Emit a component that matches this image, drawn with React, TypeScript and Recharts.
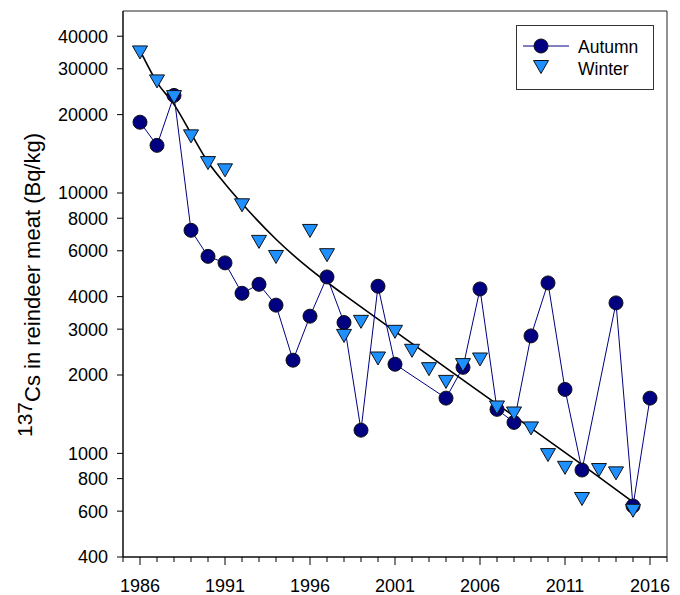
import React from 'react';
import { ComposedChart, Line, Scatter, XAxis, YAxis, ReferenceArea } from 'recharts';

const FONT = "'Liberation Sans', Arial, Helvetica, sans-serif";

// Autumn (circles, connected)
const autumnYears = [1986, 1987, 1988, 1989, 1990, 1991, 1992, 1993, 1994, 1995, 1996, 1997, 1998, 1999, 2000, 2001, 2004, 2005, 2006, 2007, 2008, 2009, 2010, 2011, 2012, 2014, 2015, 2016];
const autumnValues = [18700, 15240, 23700, 7190, 5710, 5390, 4120, 4460, 3710, 2280, 3365, 4760, 3180, 1228, 4385, 2200, 1630, 2140, 4280, 1476, 1315, 2826, 4515, 1761, 863, 3784, 628, 1630];

// Winter (triangles)
const winterYears = [1986, 1987, 1988, 1989, 1990, 1991, 1992, 1993, 1994, 1996, 1997, 1998, 1999, 2000, 2001, 2002, 2003, 2004, 2005, 2006, 2007, 2008, 2009, 2010, 2011, 2012, 2013, 2014, 2015];
const winterValues = [34660, 26830, 23350, 16500, 13030, 12220, 8970, 6490, 5680, 7150, 5770, 2826, 3200, 2314, 2930, 2477, 2106, 1882, 2183, 2294, 1501, 1423, 1247, 985, 880, 668, 863, 838, 602];

// Fitted curve
const fitYears = [1986, 1987, 1988, 1989, 1990, 1991, 1992, 1994, 1996, 1998, 2000, 2003, 2006, 2009, 2012, 2015];
const fitValues = [35280, 26600, 21900, 16950, 13150, 10850, 9106, 6644, 5096, 4068, 3276, 2373, 1718, 1251, 906, 650];

const xTicks = [1985, 1986, 1987, 1988, 1989, 1990, 1991, 1992, 1993, 1994, 1995, 1996, 1997, 1998, 1999, 2000, 2001, 2002, 2003, 2004, 2005, 2006, 2007, 2008, 2009, 2010, 2011, 2012, 2013, 2014, 2015, 2016, 2017];
const xLabelled = [1986, 1991, 1996, 2001, 2006, 2011, 2016];
const yTicks = [400, 600, 800, 1000, 2000, 3000, 4000, 6000, 8000, 10000, 20000, 30000, 40000];

const autumnData = autumnYears.map((year, i) => ({ year, v: autumnValues[i] }));
const winterData = winterYears.map((year, i) => ({ year, v: winterValues[i] }));
const fitData = fitYears.map((year, i) => ({ year, v: fitValues[i] }));

const NAVY = '#000080';
const SKY = '#1E90FF';

const XTick = (props: any) => {
  const { x, y, payload } = props;
  const v = payload.value;
  const major = xLabelled.includes(v);
  return (
    <g>
      <line x1={x} x2={x} y1={y} y2={y + (major ? 8 : 5)} stroke="#000" strokeWidth={1} />
      {major && (
        <text x={x} y={y + 35} textAnchor="middle" fontSize={18} fill="#000" fontFamily={FONT}>
          {v}
        </text>
      )}
    </g>
  );
};

const CircleDot = (p: any) => {
  if (p.cx == null || p.cy == null) return <g key={p.index} />;
  return <circle key={p.index} cx={p.cx} cy={p.cy} r={7} fill={NAVY} stroke="#111" strokeWidth={1} />;
};

const Tri = (p: any) => {
  const cx = p.cx != null ? p.cx : p.x + (p.width || 0) / 2;
  const cy = p.cy != null ? p.cy : p.y + (p.height || 0) / 2;
  return (
    <polygon
      points={`${cx - 7.5},${cy - 6.5} ${cx + 7.5},${cy - 6.5} ${cx},${cy + 6.5}`}
      fill={SKY}
      stroke="#111"
      strokeWidth={1}
    />
  );
};

export default function App() {
  return (
    <div style={{ position: 'absolute', left: 0, top: 0, width: 680, height: 595, background: '#fff' }}>
      <ComposedChart width={680} height={595} margin={{ top: 11, right: 13, bottom: 0, left: 0 }}>
        <XAxis
          dataKey="year"
          type="number"
          domain={[1985, 2017]}
          allowDataOverflow
          ticks={xTicks}
          interval={0}
          tickSize={0}
          tickMargin={0}
          tickLine={false}
          tick={<XTick />}
          height={38}
          stroke="#000"
        />
        <YAxis
          type="number"
          scale="log"
          domain={[400, 50000]}
          allowDataOverflow
          ticks={yTicks}
          interval={0}
          tickSize={6}
          tickMargin={9}
          width={123}
          stroke="#000"
          tick={{ fontSize: 18, fill: '#000', fontFamily: FONT }}
        />
        <ReferenceArea x1={1985} x2={2017} y1={400} y2={50000} fill="none" fillOpacity={0} stroke="#222" strokeWidth={1} />
        <Line
          data={fitData}
          dataKey="v"
          type="monotone"
          stroke="#000"
          strokeWidth={1.6}
          dot={false}
          activeDot={false}
          isAnimationActive={false}
        />
        <Line
          data={autumnData}
          dataKey="v"
          type="linear"
          stroke={NAVY}
          strokeWidth={1}
          dot={CircleDot}
          activeDot={false}
          isAnimationActive={false}
        />
        <Scatter data={winterData} dataKey="v" shape={Tri} isAnimationActive={false} />
      </ComposedChart>
      <svg
        width={680}
        height={595}
        style={{ position: 'absolute', left: 0, top: 0, pointerEvents: 'none' }}
      >
        <text x={40} y={437} transform="rotate(-90 40 437)" fontSize={22} fill="#000" fontFamily={FONT}>
          <tspan fontSize={21} dy={-8}>137</tspan>
          <tspan dy={8}>Cs in reindeer meat (Bq/kg)</tspan>
        </text>
        <g>
          <rect x={516.5} y={25.5} width={137} height={64} fill="#fff" stroke="#333" strokeWidth={1} />
          <line x1={523} x2={569} y1={46} y2={46} stroke={NAVY} strokeWidth={1} />
          <circle cx={541} cy={46} r={7} fill={NAVY} stroke="#111" strokeWidth={1} />
          <polygon points={`${541 - 7.5},${67 - 6.5} ${541 + 7.5},${67 - 6.5} ${541},${67 + 6.5}`} fill={SKY} stroke="#111" strokeWidth={1} />
          <text x={578} y={53} fontSize={17.5} fill="#000" fontFamily={FONT}>Autumn</text>
          <text x={578} y={75} fontSize={17.5} fill="#000" fontFamily={FONT}>Winter</text>
        </g>
      </svg>
    </div>
  );
}
